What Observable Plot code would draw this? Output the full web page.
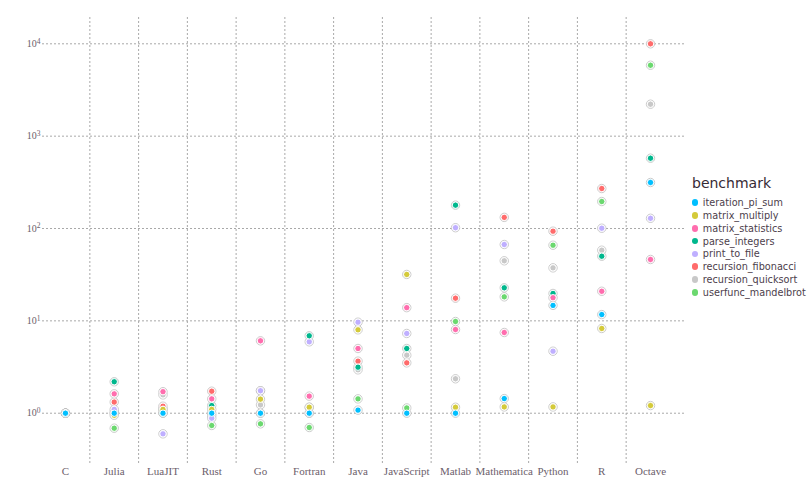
<!DOCTYPE html>
<html><head><meta charset="utf-8">
<script src="https://cdn.jsdelivr.net/npm/d3@7"></script>
<script src="https://cdn.jsdelivr.net/npm/@observablehq/plot@0.6"></script>
<style>
body{margin:0;background:#fff;}
#wrap{position:relative;width:810px;height:501px;overflow:hidden;}
#chart{position:absolute;left:0;top:0;}
#legend{position:absolute;left:691px;top:0;font-family:"DejaVu Sans",sans-serif;}
#legend .title{position:absolute;left:1px;top:175px;font-size:14px;line-height:16px;color:#362a35;white-space:nowrap;}
#legend .item{position:absolute;left:0;height:13px;line-height:13px;font-size:9.7px;color:#4c404b;white-space:nowrap;display:flex;align-items:center;}
#legend .sw{display:inline-block;width:6.6px;height:6.6px;border-radius:50%;margin-left:0.7px;margin-right:4.5px;}
</style></head><body>
<div id="wrap"><div id="chart"></div><div id="legend"></div></div>
<script>
const languages = ["C","Julia","LuaJIT","Rust","Go","Fortran","Java","JavaScript","Matlab","Mathematica","Python","R","Octave"];
const benchmarks = ["iteration_pi_sum","matrix_multiply","matrix_statistics","parse_integers","print_to_file","recursion_fibonacci","recursion_quicksort","userfunc_mandelbrot"];
const colors = ["#00BFFF","#D4CA3A","#FF6DAE","#00B78D","#BFAFFF","#FF6B6B","#C8C8C8","#6BD86F"];

// values per benchmark, in language order
const iteration_pi_sum    = [1, 1.0, 1.0, 1.0, 1.0, 1.0, 1.08, 1.0, 1.0, 1.44, 14.7, 11.7, 315];
const matrix_multiply     = [1, 0.95, 1.10, 1.10, 1.42, 1.16, 8.0, 31.8, 1.16, 1.17, 1.17, 8.27, 1.21];
const matrix_statistics   = [1, 1.62, 1.71, 1.43, 6.08, 1.53, 5.02, 13.9, 8.06, 7.48, 17.8, 20.9, 46.2];
const parse_integers      = [1, 2.19, 1.10, 1.21, 1.0, 6.89, 3.15, 5.02, 179, 22.8, 19.8, 50.1, 577];
const print_to_file       = [1, 1.10, 0.598, 0.883, 1.75, 5.93, 9.67, 7.3, 102, 67.1, 4.69, 100.7, 129];
const recursion_fibonacci = [1, 1.32, 1.19, 1.73, 1.75, 1.0, 3.66, 3.51, 17.6, 132, 93.5, 271, 10000];
const recursion_quicksort = [1, 1.03, 1.58, 0.944, 1.23, 1.16, 2.95, 4.25, 2.36, 44.7, 37.5, 58.2, 2218];
const userfunc_mandelbrot = [1, 0.688, 1.0, 0.736, 0.767, 0.70, 1.43, 1.14, 9.84, 18.2, 65.9, 196, 5860];

const yTicks = [1, 10, 100, 1000, 10000];
const yTickExponents = ["0","1","2","3","4"];

const series = {iteration_pi_sum, matrix_multiply, matrix_statistics, parse_integers, print_to_file, recursion_fibonacci, recursion_quicksort, userfunc_mandelbrot};
const rows = [];
for (const b of benchmarks.slice().reverse()) {
  series[b].forEach((v, i) => rows.push({language: languages[i], benchmark: b, value: v}));
}

const x0 = 40.6, x1 = 674.4;
const bw = (x1 - x0) / languages.length;
const gridStyle = {stroke: "#a9a9a9", strokeDasharray: "2,2", strokeWidth: 1};

const chart = Plot.plot({
  width: 690, height: 501,
  marginLeft: 42, marginRight: 4, marginTop: 17, marginBottom: 36,
  style: {fontFamily: "'Liberation Serif', serif", fontSize: "11px", color: "#6c606b", background: "white", overflow: "visible"},
  x: {type: "band", domain: languages, range: [x0, x1], padding: 0, round: false, tickSize: 0, tickPadding: 2, label: null},
  y: {type: "log", domain: [0.2715, 19270], ticks: yTicks, tickFormat: d => "10^" + yTickExponents[yTicks.indexOf(d)], tickSize: 0, tickPadding: 2, label: null},
  color: {domain: benchmarks, range: colors},
  marks: [
    Plot.ruleY(yTicks, gridStyle),
    Plot.ruleX(languages.slice(0, -1), {x: d => d, dx: bw / 2, ...gridStyle}),
    Plot.dot(rows, {x: "language", y: "value", r: 4.2, fill: "white", stroke: "#bdbdbd", strokeWidth: 0.8}),
    Plot.dot(rows, {x: "language", y: "value", r: 3.2, fill: "benchmark", stroke: "white", strokeWidth: 1})
  ]
});
// render y tick labels as 10 with superscript exponent
chart.querySelectorAll("text").forEach(t => {
  const m = /^10\^(\d)$/.exec(t.textContent);
  if (m) {
    const NS = "http://www.w3.org/2000/svg";
    t.textContent = "";
    t.setAttribute("font-size", "10px");
    t.appendChild(document.createTextNode("10"));
    const s = document.createElementNS(NS, "tspan");
    s.setAttribute("dy", "-0.45em");
    s.setAttribute("font-size", "7.5px");
    s.textContent = m[1];
    t.appendChild(s);
  }
});
document.getElementById("chart").appendChild(chart);

const legend = document.getElementById("legend");
const t = document.createElement("div");
t.className = "title"; t.textContent = "benchmark";
legend.appendChild(t);
benchmarks.forEach((b, i) => {
  const it = document.createElement("div");
  it.className = "item";
  it.style.top = (196.2 + i * 12.8) + "px";
  const sw = document.createElement("span");
  sw.className = "sw"; sw.style.background = colors[i];
  it.appendChild(sw);
  it.appendChild(document.createTextNode(b));
  legend.appendChild(it);
});
</script>
</body></html>
